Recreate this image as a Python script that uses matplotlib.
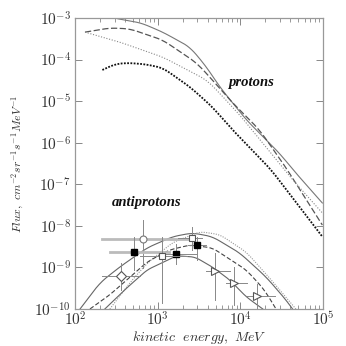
import numpy as np
import matplotlib
matplotlib.use("Agg")
import matplotlib.pyplot as plt
from matplotlib.ticker import LogLocator, NullLocator, FuncFormatter, NullFormatter

plt.rcParams['mathtext.fontset'] = 'cm'

# ---- proton curves (log10 E [MeV], log10 flux) ----
p_solid_logE = [2.30, 2.46, 2.80, 3.06, 3.39, 3.59, 3.75, 4.07, 4.47, 4.67, 4.99]
p_solid_logF = [-2.86, -3.00, -3.12, -3.34, -3.70, -4.18, -4.66, -5.45, -6.25, -6.73, -7.45]

p_dash_logE = [2.12, 2.42, 2.66, 3.06, 3.47, 3.66, 3.87, 4.23, 4.55, 4.99]
p_dash_logF = [-3.34, -3.24, -3.26, -3.53, -4.08, -4.49, -4.97, -5.69, -6.60, -7.98]

p_dot_logE = [2.12, 2.54, 3.06, 3.59, 3.71, 3.99, 4.63, 4.99]
p_dot_logF = [-3.34, -3.58, -3.94, -4.49, -4.73, -5.33, -6.89, -7.69]

p_thick_logE = [2.33, 2.48, 2.63, 2.84, 3.06, 3.39, 3.66, 3.87, 4.37, 4.99]
p_thick_logF = [-4.25, -4.11, -4.08, -4.11, -4.20, -4.66, -5.14, -5.62, -6.65, -8.26]

# ---- antiproton curves ----
a_up_logE = [2.06, 2.30, 2.54, 2.87, 3.18, 3.42, 3.66, 3.99, 4.31, 4.55, 4.63]
a_up_logF = [-10.0, -9.37, -8.99, -8.53, -8.26, -8.17, -8.26, -8.65, -9.23, -9.78, -10.0]

a_dot_logE = [2.42, 2.65, 2.87, 3.18, 3.51, 3.75, 4.07, 4.35, 4.67]
a_dot_logF = [-10.0, -9.40, -8.90, -8.40, -8.14, -8.21, -8.63, -9.25, -10.0]

a_dash_logE = [2.18, 2.42, 2.87, 3.14, 3.39, 3.66, 4.07, 4.29, 4.43]
a_dash_logF = [-10.0, -9.66, -8.87, -8.58, -8.46, -8.53, -9.06, -9.54, -10.0]

a_low_logE = [2.36, 2.60, 2.87, 3.23, 3.45, 3.66, 3.87, 4.07, 4.27]
a_low_logF = [-10.0, -9.54, -9.06, -8.72, -8.75, -8.99, -9.30, -9.71, -10.0]

# ---- antiproton data points: logE, logF, E-range (log), F-range (log) ----
circ = dict(e=2.82, f=-8.31, e_lo=2.33, e_hi=3.41, f_lo=-9.01, f_hi=-7.86)
diam = dict(e=2.55, f=-9.20, e_lo=2.33, e_hi=2.78, f_lo=-9.54, f_hi=-8.89)
fsq_e = [2.71, 3.22, 3.47]
fsq_f = [-8.63, -8.67, -8.46]
fsq_elo = [2.42, 3.06, 3.36]
fsq_ehi = [3.14, 3.46, 3.58]
fsq_flo = [-9.06, -8.91, -8.82]
fsq_fhi = [-8.26, -8.43, -8.26]
osq_e = [3.05, 3.41]
osq_f = [-8.72, -8.29]
osq_elo = [2.78, 3.25]
osq_ehi = [3.35, 3.53]
osq_flo = [-9.85, -8.58]
osq_fhi = [-8.26, -8.02]
tri_e = [3.69, 3.92, 4.20]
tri_f = [-9.08, -9.37, -9.68]
tri_elo = [3.58, 3.82, 4.08]
tri_ehi = [3.87, 4.08, 4.42]
tri_flo = [-9.78, -9.90, -10.0]
tri_fhi = [-8.65, -9.00, -9.40]


def p10(a):
    return 10 ** np.asarray(a, dtype=float)


fig = plt.figure(figsize=(3.46, 3.46), dpi=100)
ax = fig.add_axes([0.217, 0.107, 0.717, 0.841])
ax.set_xscale('log')
ax.set_yscale('log')


def curve(le, lf, **kw):
    le = np.asarray(le); lf = np.asarray(lf)
    xs = np.linspace(le.min(), le.max(), 200)
    ys = np.interp(xs, le, lf)
    k = 13
    ker = np.ones(k) / k
    ys_s = np.convolve(np.pad(ys, k // 2, mode='reflect', reflect_type='odd'), ker, mode='valid')
    ax.plot(p10(xs), p10(ys_s), **kw)


# protons
curve(p_solid_logE, p_solid_logF, color='#777777', lw=0.8, ls='-')
curve(p_dash_logE, p_dash_logF, color='#555555', lw=0.9, ls=(0, (5, 2)))
curve(p_dot_logE, p_dot_logF, color='#888888', lw=0.8, ls=(0, (1, 1.5)))
curve(p_thick_logE, p_thick_logF, color='#111111', lw=1.3, ls=(0, (1, 0.8)))

# antiprotons
curve(a_up_logE, a_up_logF, color='#666666', lw=0.8, ls='-')
curve(a_dot_logE, a_dot_logF, color='#999999', lw=0.8, ls=(0, (1, 1.2)))
curve(a_dash_logE, a_dash_logF, color='#444444', lw=0.8, ls=(0, (4, 2)))
curve(a_low_logE, a_low_logF, color='#666666', lw=0.8, ls='-')

ecol = '#888888'
ax.plot(p10([circ['e_lo'], circ['e_hi']]), p10([circ['f']] * 2), color='#bbbbbb', lw=2.0)
ax.plot(p10([circ['e']] * 2), p10([circ['f_lo'], circ['f_hi']]), color=ecol, lw=0.7)
ax.plot(p10(circ['e']), p10(circ['f']), marker='o', ms=5, mfc='white', mec='#777777', mew=0.8, ls='none')
ax.plot(p10([diam['e_lo'], diam['e_hi']]), p10([diam['f']] * 2), color=ecol, lw=0.7)
ax.plot(p10([diam['e']] * 2), p10([diam['f_lo'], diam['f_hi']]), color=ecol, lw=0.7)
ax.plot(p10(diam['e']), p10(diam['f']), marker='D', ms=5, mfc='white', mec='#555555', mew=0.8, ls='none')
for i in range(len(fsq_e)):
    hc, hw = ('#bbbbbb', 2.0) if i == 0 else (ecol, 0.7)
    ax.plot(p10([fsq_elo[i], fsq_ehi[i]]), p10([fsq_f[i]] * 2), color=hc, lw=hw)
    ax.plot(p10([fsq_e[i]] * 2), p10([fsq_flo[i], fsq_fhi[i]]), color=ecol, lw=0.7)
ax.plot(p10(fsq_e), p10(fsq_f), marker='s', ms=4.5, mfc='black', mec='black', ls='none')
for i in range(len(osq_e)):
    ax.plot(p10([osq_elo[i], osq_ehi[i]]), p10([osq_f[i]] * 2), color=ecol, lw=0.7)
    ax.plot(p10([osq_e[i]] * 2), p10([osq_flo[i], osq_fhi[i]]), color=ecol, lw=0.7)
ax.plot(p10(osq_e), p10(osq_f), marker='s', ms=5, mfc='white', mec='#555555', mew=0.8, ls='none')
for i in range(len(tri_e)):
    ax.plot(p10([tri_elo[i], tri_ehi[i]]), p10([tri_f[i]] * 2), color=ecol, lw=0.7)
    ax.plot(p10([tri_e[i]] * 2), p10([tri_flo[i], tri_fhi[i]]), color=ecol, lw=0.7)
ax.plot(p10(tri_e), p10(tri_f), marker='>', ms=5.5, mfc='white', mec='#555555', mew=0.8, ls='none')

ax.text(p10(4.13), p10(-4.56), 'protons', fontsize=10.5, ha='center', va='center',
        color='#111111', family='Liberation Serif', style='italic', weight='bold')
ax.text(p10(2.86), p10(-7.45), 'antiprotons', fontsize=10.5, ha='center', va='center',
        color='#111111', family='Liberation Serif', style='italic', weight='bold')

ax.set_xlim(1e2, 1e5)
ax.set_ylim(1e-10, 1e-3)

ax.yaxis.set_minor_locator(NullLocator())
ax.xaxis.set_major_locator(LogLocator(base=10, numticks=10))
ax.xaxis.set_minor_locator(LogLocator(base=10, subs=np.arange(2, 10), numticks=20))
ax.xaxis.set_minor_formatter(NullFormatter())
ax.yaxis.set_major_locator(LogLocator(base=10, numticks=20))


def fmt(v, pos):
    e = int(round(np.log10(v)))
    return r'$\it{10^{%d}}$' % e


ax.xaxis.set_major_formatter(FuncFormatter(fmt))
ax.yaxis.set_major_formatter(FuncFormatter(fmt))

ax.tick_params(which='both', direction='in', top=True, right=True, color='#888888',
               labelsize=11, labelcolor='#333333')
ax.tick_params(which='major', length=5, width=0.7, pad=3)
ax.tick_params(axis='x', which='major', pad=1)
ax.tick_params(which='minor', length=3, width=0.6)
for s in ax.spines.values():
    s.set_color('#999999')
    s.set_linewidth(0.9)

ax.set_xlabel(r'$kinetic\ \ energy,\ MeV$', fontsize=10, color='#333333', labelpad=0)
ax.set_ylabel(r'$Flux,\ cm^{-2}sr^{-1}s^{-1}MeV^{-1}$', fontsize=8.5, color='#333333', labelpad=6)

fig.savefig('out.png', dpi=100)
